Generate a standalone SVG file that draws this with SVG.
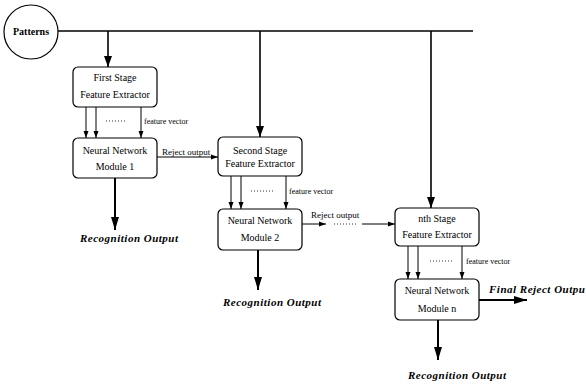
<svg xmlns="http://www.w3.org/2000/svg" width="586" height="388" viewBox="0 0 586 388">
<style>
.box{fill:#fff;stroke:#000;stroke-width:1.2}
.t{font-family:"Liberation Serif",serif;font-size:10px;fill:#000;text-anchor:middle}
.s{font-family:"Liberation Serif",serif;font-size:8px;fill:#000}
.r{font-family:"Liberation Serif",serif;font-size:9px;fill:#000}
.b{font-family:"Liberation Serif",serif;font-size:11px;letter-spacing:0.5px;font-weight:bold;font-style:italic;fill:#000}
.ln{stroke:#000;stroke-width:1;fill:none}
.th{stroke:#000;stroke-width:1.6;fill:none}
.tk{stroke:#000;stroke-width:2;fill:none}
.dot{stroke:#000;stroke-width:0.8;stroke-dasharray:1 2;fill:none}
</style>
<defs>
<marker id="a" markerWidth="8" markerHeight="8" refX="7" refY="4" orient="auto" markerUnits="userSpaceOnUse"><path d="M0,1.5 L7,4 L0,6.5 Z" fill="#000"/></marker>
<marker id="A" markerWidth="14" markerHeight="10" refX="13" refY="5" orient="auto" markerUnits="userSpaceOnUse"><path d="M0,1 L13,5 L0,9 Z" fill="#000"/></marker>
<marker id="m" markerWidth="12" markerHeight="10" refX="11" refY="5" orient="auto" markerUnits="userSpaceOnUse"><path d="M0,1 L11,5 L0,9 Z" fill="#000"/></marker>
</defs>
<g id="connectors">
<line class="th" x1="58" y1="31" x2="473" y2="31"/>
<line class="th" x1="108" y1="31" x2="108" y2="67" marker-end="url(#m)"/>
<line class="th" x1="260" y1="31" x2="260" y2="137" marker-end="url(#m)"/>
<line class="th" x1="431" y1="31" x2="431" y2="208" marker-end="url(#m)"/>
<line class="ln" x1="86" y1="107" x2="86" y2="138" marker-end="url(#a)"/>
<line class="ln" x1="96" y1="107" x2="96" y2="138" marker-end="url(#a)"/>
<line class="ln" x1="141" y1="107" x2="141" y2="138" marker-end="url(#a)"/>
<line class="dot" x1="106" y1="121" x2="126" y2="121"/>
<line class="ln" x1="157" y1="157" x2="218" y2="157" marker-end="url(#a)"/>
<line class="tk" x1="115" y1="178" x2="115" y2="230" marker-end="url(#A)"/>
<line class="ln" x1="231" y1="176" x2="231" y2="209" marker-end="url(#a)"/>
<line class="ln" x1="241" y1="176" x2="241" y2="209" marker-end="url(#a)"/>
<line class="ln" x1="286" y1="176" x2="286" y2="209" marker-end="url(#a)"/>
<line class="dot" x1="251" y1="191" x2="275" y2="191"/>
<line class="ln" x1="302" y1="224" x2="326" y2="224" marker-end="url(#a)"/>
<line class="dot" x1="334" y1="224" x2="356" y2="224"/>
<line class="ln" x1="362" y1="224" x2="395" y2="224" marker-end="url(#a)"/>
<line class="tk" x1="258" y1="250" x2="258" y2="290" marker-end="url(#A)"/>
<line class="ln" x1="408" y1="246" x2="408" y2="279" marker-end="url(#a)"/>
<line class="ln" x1="418" y1="246" x2="418" y2="279" marker-end="url(#a)"/>
<line class="ln" x1="462" y1="246" x2="462" y2="279" marker-end="url(#a)"/>
<line class="dot" x1="430" y1="261" x2="452" y2="261"/>
<line class="tk" x1="479" y1="300" x2="527" y2="300" marker-end="url(#A)"/>
<line class="tk" x1="438" y1="320" x2="438" y2="360" marker-end="url(#A)"/>
</g>
<g id="patterns">
<circle cx="31" cy="32" r="27" fill="#fff" stroke="#000" stroke-width="1.2"/>
<text class="t" x="31" y="35" font-weight="bold" font-size="9.5">Patterns</text>
</g>
<g id="stage1">
<rect class="box" x="73" y="67" width="84" height="40" rx="5"/>
<text class="t" x="115" y="81">First Stage</text>
<text class="t" x="115" y="98">Feature Extractor</text>
</g>
<g id="nn1">
<rect class="box" x="73" y="138" width="84" height="40" rx="5"/>
<text class="t" x="115" y="154">Neural Network</text>
<text class="t" x="115" y="170">Module 1</text>
</g>
<g id="stage2">
<rect class="box" x="218" y="137" width="84" height="39" rx="5"/>
<text class="t" x="260" y="154">Second Stage</text>
<text class="t" x="260" y="167">Feature Extractor</text>
</g>
<g id="nn2">
<rect class="box" x="218" y="209" width="84" height="41" rx="5"/>
<text class="t" x="260" y="224">Neural Network</text>
<text class="t" x="260" y="241">Module 2</text>
</g>
<g id="stagen">
<rect class="box" x="395" y="208" width="84" height="38" rx="5"/>
<text class="t" x="437" y="222">nth Stage</text>
<text class="t" x="437" y="238">Feature Extractor</text>
</g>
<g id="nnn">
<rect class="box" x="395" y="279" width="84" height="41" rx="5"/>
<text class="t" x="437" y="294">Neural Network</text>
<text class="t" x="437" y="312">Module n</text>
</g>
<g id="labels">
<text class="s" x="144" y="124">feature vector</text>
<text class="s" x="289" y="194">feature vector</text>
<text class="s" x="466" y="264">feature vector</text>
<text class="r" x="162" y="155">Reject output</text>
<text class="r" x="311" y="218">Reject output</text>
<text class="b" x="80" y="242">Recognition Output</text>
<text class="b" x="223" y="306">Recognition Output</text>
<text class="b" x="408" y="379">Recognition Output</text>
<text class="b" x="489" y="293">Final Reject Outpu</text>
</g>
</svg>
